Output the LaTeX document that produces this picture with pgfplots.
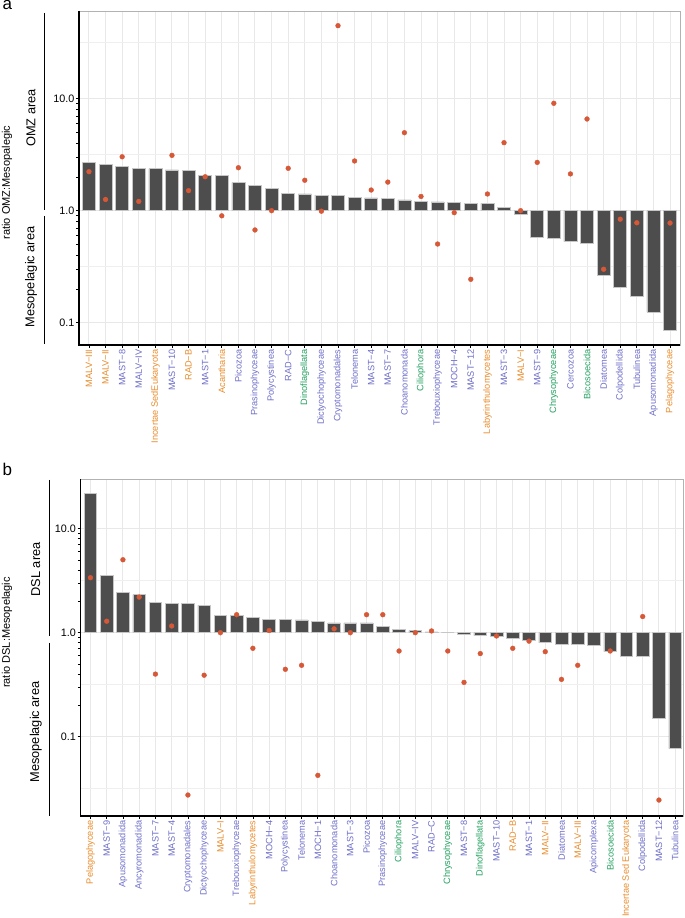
\documentclass[border=0pt]{standalone}
\usepackage{pgfplots}
\pgfplotsset{compat=1.18}
\usepackage{pgfplotstable}
\usepackage{fontspec}
\setmainfont{Liberation Sans}
\definecolor{orng}{RGB}{232,140,45}
\definecolor{blu}{RGB}{110,110,200}
\definecolor{grn}{RGB}{35,160,95}
\definecolor{dotc}{RGB}{215,88,55}
\definecolor{barc}{RGB}{77,77,77}
\definecolor{gridc}{RGB}{232,232,232}

\pgfplotstableread{
i bar dot
0 2.68 2.23
1 2.61 1.26
2 2.47 3.03
3 2.39 1.21
4 2.37 nan
5 2.31 3.12
6 2.29 1.51
7 2.07 2.01
8 2.06 0.90
9 1.78 2.42
10 1.69 0.673
11 1.58 1.00
12 1.43 2.39
13 1.41 1.87
14 1.38 0.99
15 1.37 44.9
16 1.32 2.78
17 1.30 1.53
18 1.28 1.80
19 1.25 4.97
20 1.22 1.34
21 1.20 0.504
22 1.19 0.96
23 1.17 0.244
24 1.16 1.41
25 1.07 4.05
26 0.92 1.00
27 0.574 2.70
28 0.567 9.1
29 0.529 2.13
30 0.511 6.59
31 0.267 0.30
32 0.206 0.84
33 0.171 0.78
34 0.124 nan
35 0.086 0.776
}\tablea

\pgfplotstableread{
i bar dot
0 21.7 3.38
1 3.56 1.29
2 2.45 5.03
3 2.32 2.20
4 1.96 0.40
5 1.92 1.16
6 1.91 0.0275
7 1.83 0.39
8 1.47 1.00
9 1.46 1.49
10 1.41 0.708
11 1.35 1.05
12 1.35 0.445
13 1.33 0.486
14 1.29 0.0425
15 1.24 1.09
16 1.24 1.00
17 1.24 1.49
18 1.16 1.49
19 1.08 0.667
20 1.05 1.00
21 1.02 1.04
22 1.00 0.667
23 0.97 0.333
24 0.94 0.63
25 0.915 0.93
26 0.89 0.708
27 0.84 0.83
28 0.80 0.657
29 0.78 0.356
30 0.78 0.486
31 0.76 nan
32 0.657 0.667
33 0.593 nan
34 0.593 1.43
35 0.150 0.0246
36 0.077 nan
}\tableb

\begin{document}
\begin{tikzpicture}
\path[use as bounding box] (0,0) rectangle (685bp,918bp);

% ---------------- panel a ----------------
\begin{axis}[
  scale only axis, anchor=south west,
  at={(79bp,573bp)}, width=601bp, height=334bp,
  ymode=log, log origin=0,
  xmin=-0.6, xmax=35.6, ymin=0.0632, ymax=60.7,
  ytick={0.1,1,10},
  yticklabels={0.1,1.0,10.0},
  yticklabel style={font=\fontsize{10.8bp}{12bp}\selectfont, inner sep=1.5bp},
  xticklabel style={rotate=90, anchor=east, inner sep=1.5bp, font=\fontsize{9.2bp}{10bp}\selectfont},
  tick align=outside, tick pos=left,
  major tick length=3bp, minor tick num=0,
  tick style={black, line width=0.7bp},
  xmajorgrids, ymajorgrids,
  major grid style={gridc, line width=1bp},
  extra y ticks={0.316228,3.16228,31.6228},
  extra y tick labels={},
  extra y tick style={major tick length=0pt, major grid style={gridc!70, line width=0.5bp}},
  axis line style={draw=gray!60, line width=0.8bp},
  clip=false,
  xtick={0,...,35},
  xticklabels={
    \textcolor{orng}{MALV−III},
    \textcolor{orng}{MALV−II},
    \textcolor{blu}{MAST−8},
    \textcolor{blu}{MALV−IV},
    \textcolor{orng}{Incertae SedEukaryota},
    \textcolor{blu}{MAST−10},
    \textcolor{orng}{RAD−B},
    \textcolor{blu}{MAST−1},
    \textcolor{orng}{Acantharia},
    \textcolor{blu}{Picozoa},
    \textcolor{blu}{Prasinophyceae},
    \textcolor{blu}{Polycystinea},
    \textcolor{blu}{RAD−C},
    \textcolor{grn}{Dinoflagellata},
    \textcolor{blu}{Dictyochophyceae},
    \textcolor{blu}{Cryptomonadales},
    \textcolor{blu}{Telonema},
    \textcolor{blu}{MAST−4},
    \textcolor{blu}{MAST−7},
    \textcolor{blu}{Choanomonada},
    \textcolor{grn}{Ciliophora},
    \textcolor{blu}{Trebouxiophyceae},
    \textcolor{blu}{MOCH−4},
    \textcolor{blu}{MAST−12},
    \textcolor{orng}{Labyrinthulomycetes},
    \textcolor{blu}{MAST−3},
    \textcolor{orng}{MALV−I},
    \textcolor{blu}{MAST−9},
    \textcolor{grn}{Chrysophyceae},
    \textcolor{blu}{Cercozoa},
    \textcolor{grn}{Bicosoecida},
    \textcolor{blu}{Diatomea},
    \textcolor{blu}{Colpodellida},
    \textcolor{blu}{Tubulinea},
    \textcolor{blu}{Apusomonadida},
    \textcolor{orng}{Pelagophyceae}},
]
\addplot[ybar, bar width=0.78, bar shift=0pt, fill=barc, draw=gray!45, line width=0.6bp] table[x=i, y=bar] {\tablea};
\addplot[only marks, mark=*, mark size=2.4bp, mark options={fill=dotc, draw=dotc}] table[x=i, y=dot] {\tablea};
\draw[black, line width=1.1bp] (rel axis cs:0,1) -- (rel axis cs:0,0) -- (rel axis cs:1,0);
\end{axis}

% ---------------- panel b ----------------
\begin{axis}[
  scale only axis, anchor=south west,
  at={(80.7bp,102bp)}, width=602.6bp, height=337bp,
  ymode=log, log origin=0,
  xmin=-0.6, xmax=36.5, ymin=0.01728, ymax=30.06,
  ytick={0.1,1,10},
  yticklabels={0.1,1.0,10.0},
  yticklabel style={font=\fontsize{10.8bp}{12bp}\selectfont, inner sep=1.5bp},
  xticklabel style={rotate=90, anchor=east, inner sep=1.5bp, font=\fontsize{9.2bp}{10bp}\selectfont},
  tick align=outside, tick pos=left,
  major tick length=3bp, minor tick num=0,
  tick style={black, line width=0.7bp},
  xmajorgrids, ymajorgrids,
  major grid style={gridc, line width=1bp},
  extra y ticks={0.0316228,0.316228,3.16228},
  extra y tick labels={},
  extra y tick style={major tick length=0pt, major grid style={gridc!70, line width=0.5bp}},
  axis line style={draw=gray!60, line width=0.8bp},
  clip=false,
  xtick={0,...,36},
  xticklabels={
    \textcolor{orng}{Pelagophyceae},
    \textcolor{blu}{MAST−9},
    \textcolor{blu}{Apusomonadida},
    \textcolor{blu}{Ancyromonadida},
    \textcolor{blu}{MAST−7},
    \textcolor{blu}{MAST−4},
    \textcolor{blu}{Cryptomonadales},
    \textcolor{blu}{Dictyochophyceae},
    \textcolor{orng}{MALV−I},
    \textcolor{blu}{Trebouxiophyceae},
    \textcolor{orng}{Labyrinthulomycetes},
    \textcolor{blu}{MOCH−4},
    \textcolor{blu}{Polycystinea},
    \textcolor{blu}{Telonema},
    \textcolor{blu}{MOCH−1},
    \textcolor{blu}{Choanomonada},
    \textcolor{blu}{MAST−3},
    \textcolor{blu}{Picozoa},
    \textcolor{blu}{Prasinophyceae},
    \textcolor{grn}{Ciliophora},
    \textcolor{blu}{MALV−IV},
    \textcolor{blu}{RAD−C},
    \textcolor{grn}{Chrysophyceae},
    \textcolor{blu}{MAST−8},
    \textcolor{grn}{Dinoflagellata},
    \textcolor{blu}{MAST−10},
    \textcolor{orng}{RAD−B},
    \textcolor{blu}{MAST−1},
    \textcolor{orng}{MALV−II},
    \textcolor{blu}{Diatomea},
    \textcolor{orng}{MALV−III},
    \textcolor{blu}{Apicomplexa},
    \textcolor{grn}{Bicosoecida},
    \textcolor{orng}{Incertae Sed Eukaryota},
    \textcolor{blu}{Colpodellida},
    \textcolor{blu}{MAST−12},
    \textcolor{blu}{Tubulinea}},
]
\addplot[ybar, bar width=0.78, bar shift=0pt, fill=barc, draw=gray!45, line width=0.6bp] table[x=i, y=bar] {\tableb};
\addplot[only marks, mark=*, mark size=2.4bp, mark options={fill=dotc, draw=dotc}] table[x=i, y=dot] {\tableb};
\draw[black, line width=1.1bp] (rel axis cs:0,1) -- (rel axis cs:0,0) -- (rel axis cs:1,0);
\end{axis}

% ---------------- annotations ----------------
\node[anchor=base west, inner sep=0pt, font=\fontsize{17bp}{18bp}\selectfont] at (2.5bp,908.5bp) {a};
\node[anchor=base west, inner sep=0pt, font=\fontsize{17bp}{18bp}\selectfont] at (2.5bp,442bp) {b};

\draw[black, line width=1.4bp] (44.3bp,905bp) -- (44.3bp,707.7bp);
\draw[black, line width=1.4bp] (44.3bp,702bp) -- (44.3bp,573.5bp);
\draw[black, line width=1.4bp] (49.3bp,438bp) -- (49.3bp,282bp);
\draw[black, line width=1.4bp] (49.3bp,275.3bp) -- (49.3bp,102bp);

\node[rotate=90, inner sep=0pt, font=\fontsize{12.8bp}{14bp}\selectfont] at (31bp,800bp) {OMZ area};
\node[rotate=90, inner sep=0pt, font=\fontsize{12.8bp}{14bp}\selectfont] at (31bp,641bp) {Mesopelagic area};
\node[rotate=90, inner sep=0pt, font=\fontsize{11bp}{12bp}\selectfont] at (7bp,735.5bp) {ratio OMZ:Mesopalegic};

\node[rotate=90, inner sep=0pt, font=\fontsize{12.8bp}{14bp}\selectfont] at (35.7bp,348.5bp) {DSL area};
\node[rotate=90, inner sep=0pt, font=\fontsize{12.8bp}{14bp}\selectfont] at (35.7bp,186bp) {Mesopelagic area};
\node[rotate=90, inner sep=0pt, font=\fontsize{11bp}{12bp}\selectfont] at (7bp,285.5bp) {ratio DSL:Mesopelagic};
\end{tikzpicture}
\end{document}
